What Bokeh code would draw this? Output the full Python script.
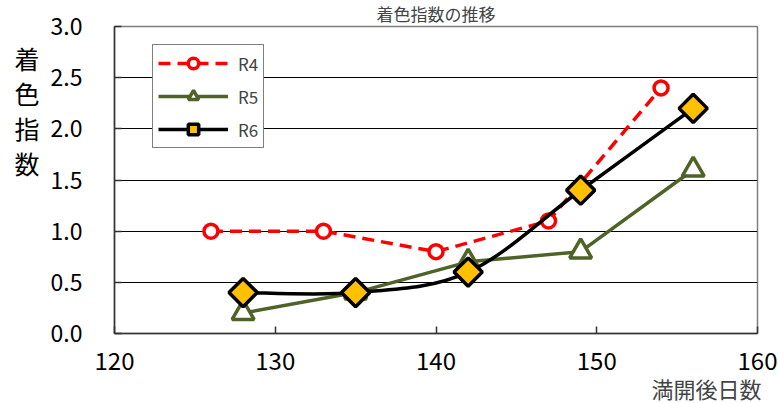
import math
from bokeh.plotting import figure
from bokeh.models import (Range1d, FixedTicker, NumeralTickFormatter,
                          Legend, LegendItem, Title)
from bokeh.embed import file_html
from bokeh.resources import INLINE

# ---- data ----
title_text = "着色指数の推移"
x_label = "満開後日数"
y_label = "着色指数"
x_r4 = [126, 133, 140, 147, 154]
y_r4 = [1.0, 1.0, 0.8, 1.1, 2.4]
x_r5 = [128, 135, 142, 149, 156]
y_r5 = [0.2, 0.4, 0.7, 0.8, 1.6]
x_r6 = [128, 135, 142, 149, 156]
y_r6 = [0.4, 0.4, 0.6, 1.4, 2.2]
x_ticks = [120, 130, 140, 150, 160]
y_ticks = [0.0, 0.5, 1.0, 1.5, 2.0, 2.5, 3.0]
series_names = ["R4", "R5", "R6"]

FONT = "Noto Sans CJK JP"
RED = "#FF0000"
GREEN = "#4F6228"
GOLD = "#FFC000"

p = figure(width=778, height=403, output_backend="svg", toolbar_location=None,
           x_range=Range1d(120, 160), y_range=Range1d(0, 3),
           min_border_left=114, min_border_right=21, min_border_top=26,
           min_border_bottom=70)
p.background_fill_color = "white"
p.border_fill_color = "white"
p.outline_line_color = "#808080"
p.outline_line_width = 1.5

# axes
p.xaxis.ticker = FixedTicker(ticks=x_ticks)
p.yaxis.ticker = FixedTicker(ticks=y_ticks)
p.yaxis.formatter = NumeralTickFormatter(format="0.0")
for ax in (p.xaxis[0], p.yaxis[0]):
    ax.axis_line_color = "#333333"
    ax.axis_line_width = 1.5
    ax.major_tick_line_color = "#333333"
    ax.major_tick_line_width = 1.5
    ax.major_tick_in = 7
    ax.major_tick_out = 0
    ax.minor_tick_line_color = None
    ax.major_label_text_font = FONT
    ax.major_label_text_color = "black"
p.yaxis.major_label_text_font_size = "23px"
p.xaxis.major_label_text_font_size = "24px"
p.yaxis.major_label_standoff = 32
p.xaxis.major_label_standoff = 18

# stacked (upright) y-axis label; blank lines lift the block toward the top
p.yaxis.axis_label = "\n".join(list(y_label) + ["\u3000"] * 4)
p.yaxis.axis_label_orientation = "horizontal"
p.yaxis.axis_label_text_font = FONT
p.yaxis.axis_label_text_font_size = "25px"
p.yaxis.axis_label_text_font_style = "normal"
p.yaxis.axis_label_text_line_height = 0.97
p.yaxis.axis_label_text_color = "black"
p.yaxis.axis_label_standoff = 8

p.xgrid.grid_line_color = None
p.ygrid.ticker = FixedTicker(ticks=y_ticks[1:-1])
p.ygrid.grid_line_color = "#000000"
p.ygrid.grid_line_width = 1

# R4: dashed red with open circles
l4 = p.line(x_r4, y_r4, line_color=RED, line_width=3.5, line_dash="12 7")
s4 = p.scatter(x_r4, y_r4, marker="circle", size=14, line_color=RED,
               line_width=3.5, fill_color="white")

# R5: olive line with open triangles
l5 = p.line(x_r5, y_r5, line_color=GREEN, line_width=3.5)
s5 = p.scatter(x_r5, y_r5, marker="triangle", size=22, line_color=GREEN,
               line_width=3.5, fill_color="white")

# R6: smoothed black line (cubic Bezier through the points) with gold diamonds
n = len(x_r6)
x0, y0, x1, y1, cx0, cy0, cx1, cy1 = [], [], [], [], [], [], [], []
for i in range(n - 1):
    ip = max(i - 1, 0)
    inn = min(i + 2, n - 1)
    x0.append(x_r6[i]); y0.append(y_r6[i])
    x1.append(x_r6[i + 1]); y1.append(y_r6[i + 1])
    cx0.append(x_r6[i] + (x_r6[i + 1] - x_r6[ip]) / 6)
    cy0.append(y_r6[i] + (y_r6[i + 1] - y_r6[ip]) / 6)
    cx1.append(x_r6[i + 1] - (x_r6[inn] - x_r6[i]) / 6)
    cy1.append(y_r6[i + 1] - (y_r6[inn] - y_r6[i]) / 6)
l6 = p.bezier(x0=x0, y0=y0, x1=x1, y1=y1, cx0=cx0, cy0=cy0, cx1=cx1, cy1=cy1,
              line_color="black", line_width=3.5)
s6 = p.scatter(x_r6, y_r6, marker="square", angle=math.pi / 4, size=20,
               line_color="black", line_width=3.5, fill_color=GOLD)

legend = Legend(items=[LegendItem(label=series_names[0], renderers=[l4, s4]),
                       LegendItem(label=series_names[1], renderers=[l5, s5]),
                       LegendItem(label=series_names[2], renderers=[l6, s6])],
                location=(38, 185), border_line_color="black", border_line_width=1,
                background_fill_color="white", background_fill_alpha=1.0,
                label_text_font=FONT, label_text_font_size="17px",
                glyph_width=70, glyph_height=26, label_height=26, spacing=7,
                padding=5, label_standoff=10, margin=0)
p.add_layout(legend)

# title (top) and x-axis label (bottom right)
p.add_layout(Title(text=title_text, align="center", vertical_align="middle",
                   text_font=FONT, text_font_size="17px", text_font_style="normal",
                   standoff=-1, offset=-11), "above")
p.add_layout(Title(text=x_label, align="right", vertical_align="middle",
                   text_font=FONT, text_font_size="22px", text_font_style="normal",
                   standoff=-3, offset=-4), "below")

open("out.html", "w").write(file_html(p, INLINE))
